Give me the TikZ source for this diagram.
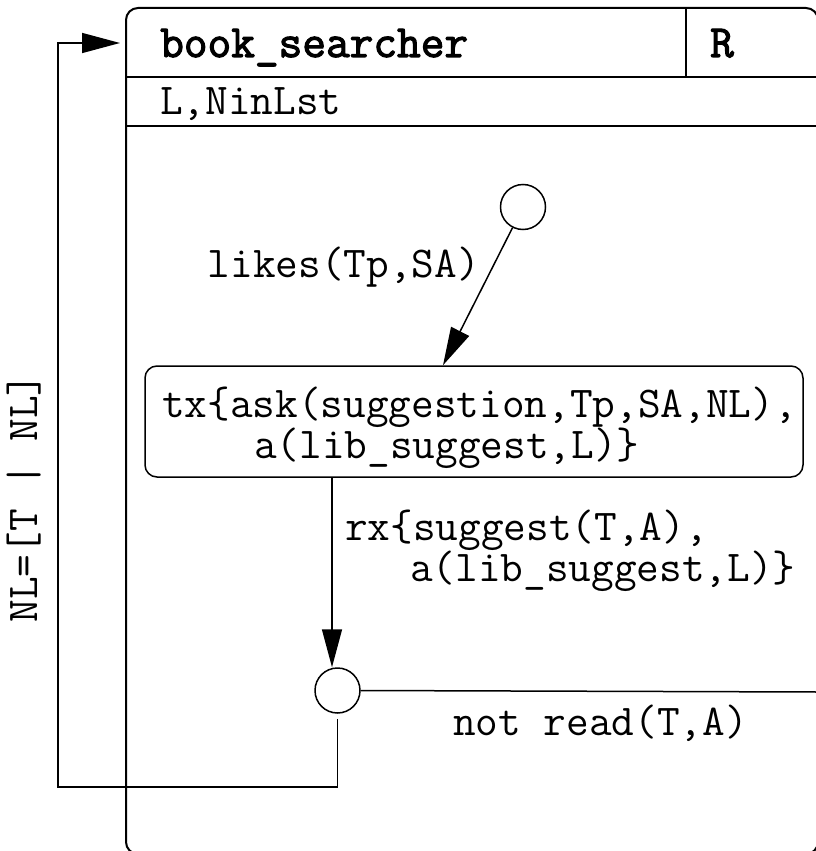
\documentclass[tikz,border=0pt]{standalone}
\usepackage{fontspec}
\newfontfamily\mono{Latin Modern Mono}
\newfontfamily\monobold{Latin Modern Mono}[FakeBold=2.5]
\usetikzlibrary{arrows.meta,calc}
% two-line label whose base is the first line's baseline
\newcommand\twolines[4]{\vtop{\baselineskip=#1\hbox{#2}\hbox{\hspace*{#3}#4}}}
\begin{document}
\begin{tikzpicture}[x=1pt,y=-1pt,
  txt/.style={font=\mono\fontsize{44}{39}\selectfont, inner sep=0pt},
  ttl/.style={font=\monobold\fontsize{46}{46}\selectfont, inner sep=0pt},
  frameline/.style={line width=2pt},
  conn/.style={line width=1.5pt},
  arr/.style={conn, -{Triangle[length=38pt,width=20pt]}},
  state/.style={circle, draw, line width=1.5pt, minimum size=45pt, inner sep=0pt},
  actbox/.style={draw, line width=1.5pt, rounded corners=12pt, minimum width=658pt, minimum height=111pt, inner sep=0pt}
]
\useasboundingbox (0,0) rectangle (816,851);

% outer agent frame with header rows
\draw[frameline, rounded corners=12pt] (126,8) rectangle (818,854);
\draw[frameline] (126,77) -- (818,77);
\draw[frameline] (126,126) -- (818,126);
\draw[frameline] (686,8) -- (686,77);
\node[ttl, anchor=base west] (name) at (160,57) {book\_searcher};
\node[ttl, anchor=base] (role) at (722,57) {R};
\node[txt, anchor=base west] (params) at (160,114) {L,NinLst};

% states and the send box
\node[state] (s0) at (523,207) {};
\node[actbox] (tx) at (474,421.5) {};
\node[txt, anchor=base west] (txlbl) at (162,417)
  {\twolines{39pt}{tx\{ask(suggestion,Tp,SA,NL),}{92pt}{a(lib\_suggest,L)\}}};
\node[state] (s1) at (337.5,690.5) {};

% coordinates for free ends
\coordinate (exitR) at (818,692);
\coordinate (fbLow) at (58,787);
\coordinate (fbTop) at (58,43);
\coordinate (entry) at (120,43);

% transitions
\draw[arr] (s0) -- ([xshift=-31pt]tx.north);
\node[txt, anchor=base east] (likes) at (480,277) {likes(Tp,SA)};

\draw[arr] ([xshift=-142pt]tx.south) -- ([xshift=-142pt]tx.south |- s1.north);
\node[txt, anchor=base west] (rxlbl) at (345,540)
  {\twolines{41pt}{rx\{suggest(T,A),}{65pt}{a(lib\_suggest,L)\}}};

\draw[conn] (s1.east) -- (exitR);
\node[txt, anchor=base west] (notread) at (453,735) {not read(T,A)};

\draw[arr, shorten <=5pt] (s1.south) |- (fbLow) -- (fbTop) -- (entry);
\node[txt, rotate=90] (nl) at (24,498) {NL=[T | NL]};
\end{tikzpicture}
\end{document}
